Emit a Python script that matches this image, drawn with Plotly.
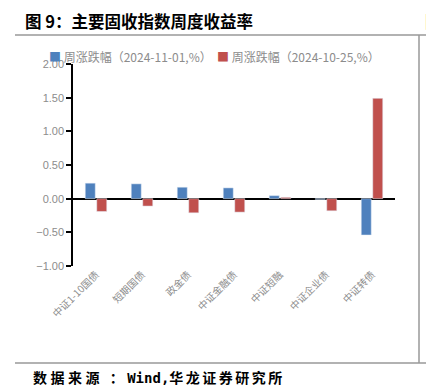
import plotly.graph_objects as go

categories = ["中证1-10国债", "短期国债", "政金债", "中证金融债", "中证短融", "中证企业债", "中证转债"]
s1_name = "周涨跌幅（2024-11-01,%）"
s2_name = "周涨跌幅（2024-10-25,%）"
s1_values = [0.23, 0.22, 0.17, 0.16, 0.045, -0.01, -0.54]
s2_values = [-0.19, -0.11, -0.21, -0.20, 0.02, -0.18, 1.49]
y_ticks = [-1.0, -0.5, 0.0, 0.5, 1.0, 1.5, 2.0]
c1, c2 = "#4F81BD", "#C0504D"

OFF = 8  # page body margin in the browser
W, H = 434 - OFF, 386 - OFF
L, R, T, B = 73 - OFF, 395 - OFF, 64 - OFF, 266 - OFF

def px(x):
    return (x - OFF - L) / (R - L)

def py(y):
    return (B - (y - OFF)) / (B - T)

fig = go.Figure()
fig.add_trace(go.Bar(x=categories, y=s1_values, name=s1_name, marker_color=c1))
fig.add_trace(go.Bar(x=categories, y=s2_values, name=s2_name, marker_color=c2))

gray = "#8c8c8c"
fig.update_layout(
    width=W, height=H,
    margin=dict(l=L, r=W - R, t=T, b=H - B, pad=0, autoexpand=False),
    paper_bgcolor="white", plot_bgcolor="white",
    barmode="group", bargap=0.5, bargroupgap=0.13,
    font=dict(family="Noto Sans CJK SC", color=gray),
    showlegend=False,
    xaxis=dict(tickangle=-45, tickfont=dict(size=10, color=gray, family="Noto Sans CJK SC"),
               showline=False, showgrid=False, ticks="", zeroline=False, automargin=False),
    yaxis=dict(range=[-1, 2], tickvals=y_ticks, tickformat=".2f",
               tickfont=dict(size=11, color=gray, family="Liberation Sans"),
               showline=True, linecolor="black", linewidth=1.5,
               ticks="outside", ticklen=5, tickcolor="black", tickwidth=1.5,
               showgrid=False, zeroline=True, zerolinecolor="black", zerolinewidth=1.5,
               automargin=False),
)

# legend drawn as text entries
for name, col, x0 in [(s1_name, c1, 47), (s2_name, c2, 215)]:
    fig.add_annotation(text=f'<span style="color:{col}">■</span> {name}', xref="paper", yref="paper",
                       x=px(x0), y=py(57), xanchor="left", yanchor="middle", showarrow=False,
                       font=dict(size=12, color=gray, family="Noto Sans CJK SC"))

line = dict(color="#999999", width=1.5)
fig.add_shape(type="line", xref="paper", yref="paper", x0=px(15), x1=px(434), y0=py(35), y1=py(35), line=line)
fig.add_shape(type="line", xref="paper", yref="paper", x0=px(15), x1=px(434), y0=py(363), y1=py(363), line=line)
fig.add_shape(type="line", xref="paper", yref="paper", x0=px(419), x1=px(419), y0=py(35), y1=py(363), line=line)

fig.add_annotation(text="<b>图 9：主要固收指数周度收益率</b>", xref="paper", yref="paper",
                   x=px(24), y=py(8), xanchor="left", yanchor="top", showarrow=False, borderpad=0,
                   font=dict(size=16.5, color="black", family="Noto Sans CJK SC"))
src = ('<b><span style="letter-spacing:3.5px">数据来源 ：</span>'
       '<span style="font-family:DejaVu Sans Mono">Wind,</span>'
       '<span style="letter-spacing:2.5px">华龙证券研究所</span></b>')
fig.add_annotation(text=src, xref="paper", yref="paper",
                   x=px(32), y=py(377), xanchor="left", yanchor="middle", showarrow=False, borderpad=0,
                   font=dict(size=14, color="black", family="Noto Sans CJK SC"))
fig.add_annotation(text="<b>图</b>", xref="paper", yref="paper",
                   x=px(424), y=py(8), xanchor="left", yanchor="top", showarrow=False, borderpad=0,
                   font=dict(size=16.5, color="black", family="Noto Sans CJK SC"))
fig.add_annotation(text="<b>数</b>", xref="paper", yref="paper",
                   x=px(427), y=py(377), xanchor="left", yanchor="middle", showarrow=False, borderpad=0,
                   font=dict(size=14, color="black", family="Noto Sans CJK SC"))

fig.write_html("out.html")
